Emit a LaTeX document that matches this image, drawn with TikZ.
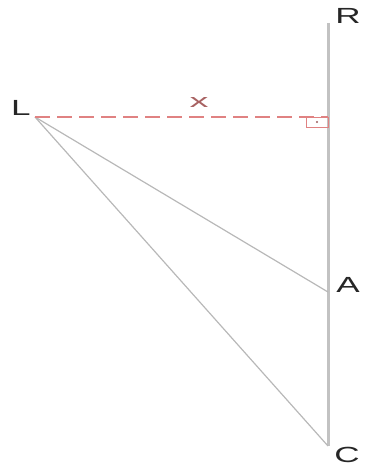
\documentclass[tikz,border=0pt]{standalone}
\usepackage{fontspec}
\setmainfont{Liberation Sans}
\usepackage{graphicx}
\usetikzlibrary{calc}
\colorlet{PoleLine}{black!24}
\colorlet{RayLine}{black!28}
\colorlet{DistLine}{red!42!white!88!black}
\newcommand{\wide}[1]{\scalebox{1.6}[1]{#1}}

\begin{document}
\begin{tikzpicture}[
    x=1bp, y=1bp,
    pole/.style={draw=PoleLine, line width=3bp},
    ray/.style={draw=RayLine, line width=1.2bp},
    dist/.style={draw=DistLine, line width=1.3bp, dash pattern=on 15bp off 7bp},
    pt/.style={font=\fontsize{22}{25}\selectfont, text=black!85, inner sep=0pt},
    distlbl/.style={font=\fontsize{19}{22}\selectfont, text=DistLine!75!black, inner sep=0pt}
]
\useasboundingbox (0,-470) rectangle (368,0);

% ===================================================================
% POINTS
% ===================================================================
\coordinate (L) at (35,-117);
\coordinate (R) at (328,-23);
\coordinate (F) at (328,-117);
\coordinate (A) at (328,-292);
\coordinate (C) at (328,-446);

% ===================================================================
% LINES
% ===================================================================
\draw[pole] (R) -- (C);
\foreach \p in {A, C} {
    \draw[ray] (L) -- (\p);
}
\draw[dist] (L) -- (F);

% right angle mark
\draw[draw=DistLine, line width=0.8bp] ($(F)+(-22,0)$) rectangle ($(F)+(0,-10)$);
\fill[DistLine!70!black] ($(F)+(-11,-5)$) circle (1.2bp);

% ===================================================================
% LABELS
% ===================================================================
\node[pt] (lblR) at (348,-16) {\wide{R}};
\node[pt] (lblL) at (21,-108) {\wide{L}};
\node[pt] (lblA) at (348,-285) {\wide{A}};
\node[pt] (lblC) at (347,-455) {\wide{C}};
\node[distlbl] (lblx) at (199,-103) {\scalebox{2}[1]{x}};

\end{tikzpicture}
\end{document}
